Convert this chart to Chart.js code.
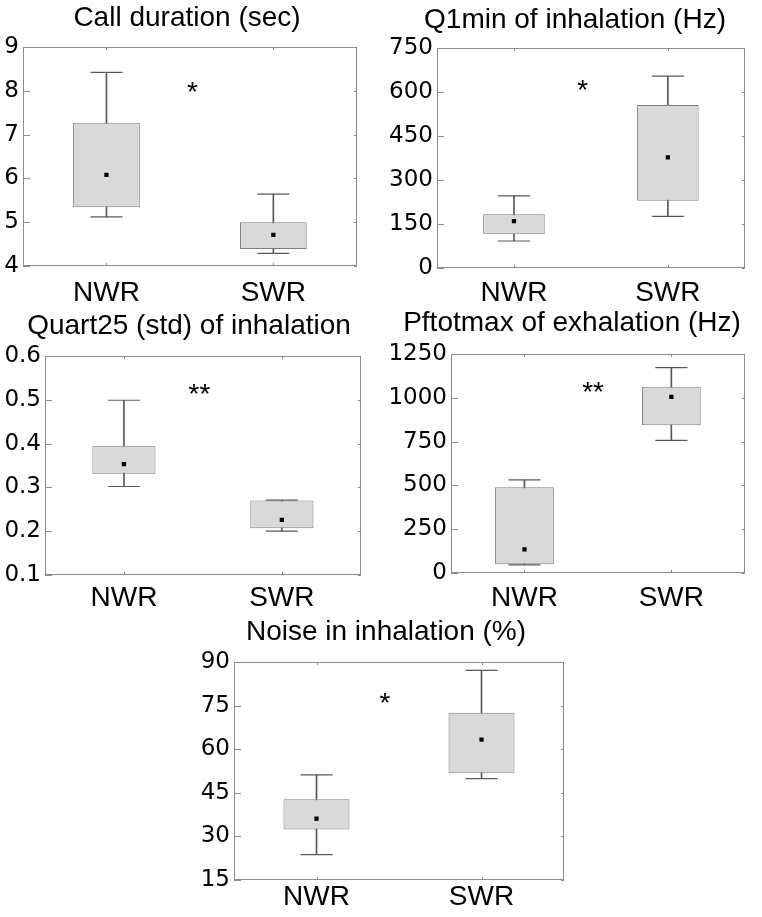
<!DOCTYPE html>
<html>
<head>
<meta charset="utf-8">
<script src="https://cdn.jsdelivr.net/npm/chart.js@4/dist/chart.umd.min.js"></script>
<style>
  html, body { margin: 0; padding: 0; background: #fff; }
  #wrap { position: relative; width: 762px; height: 917px; overflow: hidden; }
  #wrap canvas { position: absolute; }
</style>
</head>
<body>
<div id="wrap">
  <canvas id="c0"></canvas>
  <canvas id="c1"></canvas>
  <canvas id="c2"></canvas>
  <canvas id="c3"></canvas>
  <canvas id="c4"></canvas>
</div>
<script>
// groups and panel titles
var groups = ['NWR', 'SWR'];
var titles = [
    'Call duration (sec)',
    'Q1min of inhalation (Hz)',
    'Quart25 (std) of inhalation',
    'Pftotmax of exhalation (Hz)',
    'Noise in inhalation (%)'
];

// box plot values per panel: [NWR, SWR]
var whiskerLow  = [[5.12, 4.29], [92, 176], [0.302, 0.200], [46, 757],  [23.7, 49.9]];
var boxLow      = [[5.34, 4.39], [115, 229], [0.331, 0.207], [50, 843],  [32.4, 51.7]];
var centerPoint = [[6.08, 4.71], [160, 377], [0.353, 0.226], [135, 1005], [36.1, 63.3]];
var boxHigh     = [[7.27, 5.00], [183, 556], [0.395, 0.270], [489, 1063], [42.8, 72.5]];
var whiskerHigh = [[8.42, 5.64], [246, 654], [0.499, 0.271], [531, 1172], [51.2, 87.1]];

// y axis ranges
var yMin  = [4, 0, 0.1, 0, 15];
var yMax  = [9, 750, 0.6, 1250, 90];
var yStep = [1, 150, 0.1, 250, 15];

// significance marks
var sigText = ['*', '*', '**', '**', '*'];
var sigX = [0.515, 0.446, 0.478, 0.467, 0.415];
var sigY = [7.95, 603, 0.51, 1026, 75.4];

// where each panel sits on the page (canvas box + plot area edges)
var frames = [
    { left: 0,   top: 0,   width: 374, height: 310, L: 23,  T: 47,  R: 366, B: 266, titleY: 18,  xPad: 10.7 },
    { left: 388, top: 0,   width: 374, height: 310, L: 437, T: 48,  R: 754, B: 268, titleY: 20,  xPad: 8.7 },
    { left: 0,   top: 305, width: 378, height: 310, L: 45,  T: 356, R: 368, B: 575, titleY: 326, xPad: 6.2 },
    { left: 382, top: 305, width: 380, height: 310, L: 451, T: 354, R: 755, B: 573, titleY: 323, xPad: 8.2 },
    { left: 190, top: 610, width: 392, height: 307, L: 234, T: 662, R: 564, B: 880, titleY: 632, xPad: 0.2 }
];

var FONT = '"Liberation Sans", Arial, sans-serif';
var TICK_FONT = '"DejaVu Sans", sans-serif';
var frameColor = '#8c8c8c';
var whiskerColor = '#595959';

Chart.defaults.color = '#000';
Chart.defaults.font.family = FONT;

// frame around the plot area + inward tick marks + significance stars
var framePlugin = {
    id: 'frameTicks',
    beforeDatasetsDraw: function(chart) {
        var a = chart.chartArea;
        var ctx = chart.ctx;
        ctx.save();
        ctx.strokeStyle = frameColor;
        ctx.lineWidth = 1;
        ctx.strokeRect(Math.round(a.left) + 0.5, Math.round(a.top) + 0.5,
            Math.round(a.right - a.left) - 1, Math.round(a.bottom - a.top) - 1);
        ctx.beginPath();
        var ys = chart.scales.y;
        ys.ticks.forEach(function(t, i) {
            var py = Math.round(ys.getPixelForTick(i)) + 0.5;
            ctx.moveTo(a.left, py);
            ctx.lineTo(a.left + 7, py);
            ctx.moveTo(a.right - 3, py);
            ctx.lineTo(a.right, py);
        });
        var xs = chart.scales.x;
        xs.ticks.forEach(function(t, i) {
            var px = Math.round(xs.getPixelForTick(i)) + 0.5;
            ctx.moveTo(px, a.bottom);
            ctx.lineTo(px, a.bottom - 3);
            ctx.moveTo(px, a.top);
            ctx.lineTo(px, a.top + 3);
        });
        ctx.stroke();
        ctx.restore();
    },
    afterDatasetsDraw: function(chart) {
        var opts = chart.options.plugins.frameTicks;
        if (!opts || !opts.text) return;
        var ctx = chart.ctx;
        ctx.save();
        ctx.font = '28px ' + FONT;
        ctx.fillStyle = '#000';
        ctx.textAlign = 'center';
        ctx.textBaseline = 'middle';
        ctx.fillText(opts.text, chart.scales.x.getPixelForValue(opts.x), chart.scales.y.getPixelForValue(opts.y));
        ctx.restore();
    }
};

function makePanel(p) {
    var f = frames[p];
    var canvas = document.getElementById('c' + p);
    canvas.width = f.width;
    canvas.height = f.height;
    canvas.style.left = f.left + 'px';
    canvas.style.top = f.top + 'px';
    canvas.style.width = f.width + 'px';
    canvas.style.height = f.height + 'px';

    var yW = f.L - f.left;
    var rightW = f.left + f.width - f.R;
    var xH = f.top + f.height - f.B;
    var padTop = f.titleY - f.top - 16.8;
    var padBottom = (f.T - f.top) - padTop - 33.6;

    var boxes = groups.map(function(g, i) { return [boxLow[p][i], boxHigh[p][i]]; });
    var whiskers = groups.map(function(g, i) { return [whiskerLow[p][i], whiskerHigh[p][i]]; });

    new Chart(canvas, {
        type: 'bar',
        data: {
            labels: groups,
            datasets: [{
                // whisker stem (hidden behind the box)
                data: whiskers,
                backgroundColor: whiskerColor,
                borderWidth: 0,
                barThickness: 1,
                grouped: false,
                order: 5
            }, {
                type: 'line',
                data: whiskerLow[p],
                showLine: false,
                pointStyle: 'line',
                pointRadius: 16,
                pointBorderColor: whiskerColor,
                pointBorderWidth: 1.2,
                order: 4
            }, {
                type: 'line',
                data: whiskerHigh[p],
                showLine: false,
                pointStyle: 'line',
                pointRadius: 16,
                pointBorderColor: whiskerColor,
                pointBorderWidth: 1.2,
                order: 4
            }, {
                // the box itself
                data: boxes,
                backgroundColor: '#d9d9d9',
                borderColor: '#7f7f7f',
                borderWidth: 1,
                borderSkipped: false,
                barPercentage: 0.4,
                categoryPercentage: 1,
                grouped: false,
                order: 3
            }, {
                type: 'line',
                data: centerPoint[p],
                showLine: false,
                pointStyle: 'rect',
                pointRadius: 3,
                pointBackgroundColor: '#000',
                pointBorderWidth: 0,
                order: 1
            }]
        },
        options: {
            responsive: false,
            devicePixelRatio: 1,
            animation: false,
            events: [],
            layout: { padding: 0 },
            plugins: {
                legend: { display: false },
                tooltip: { enabled: false },
                title: {
                    display: true,
                    text: titles[p],
                    color: '#000',
                    font: { family: FONT, size: 28, weight: 'normal', lineHeight: 1.2 },
                    padding: { top: padTop, bottom: padBottom }
                },
                frameTicks: { text: sigText[p], x: sigX[p], y: sigY[p] }
            },
            scales: {
                x: {
                    grid: { display: false, drawTicks: false },
                    border: { display: false },
                    ticks: {
                        padding: f.xPad,
                        maxRotation: 0,
                        color: '#000',
                        font: { family: FONT, size: 28 }
                    },
                    afterFit: function(s) { s.height = xH; }
                },
                y: {
                    min: yMin[p],
                    max: yMax[p],
                    grid: { display: false, drawTicks: false },
                    border: { display: false },
                    ticks: {
                        stepSize: yStep[p],
                        padding: 4,
                        color: '#000',
                        font: { family: TICK_FONT, size: 23 },
                        callback: function(v) { return String(+v.toFixed(2)); }
                    },
                    afterFit: function(s) { s.width = yW; }
                },
                yr: {
                    type: 'linear',
                    position: 'right',
                    grid: { display: false, drawTicks: false },
                    border: { display: false },
                    ticks: { display: false },
                    afterFit: function(s) { s.width = rightW; }
                }
            }
        },
        plugins: [framePlugin]
    });
}

document.addEventListener('DOMContentLoaded', function() {
    if (typeof Chart === 'undefined') {
        console.error('Chart.js not loaded');
        return;
    }
    for (var p = 0; p < titles.length; p++) {
        makePanel(p);
    }
});
</script>
</body>
</html>
